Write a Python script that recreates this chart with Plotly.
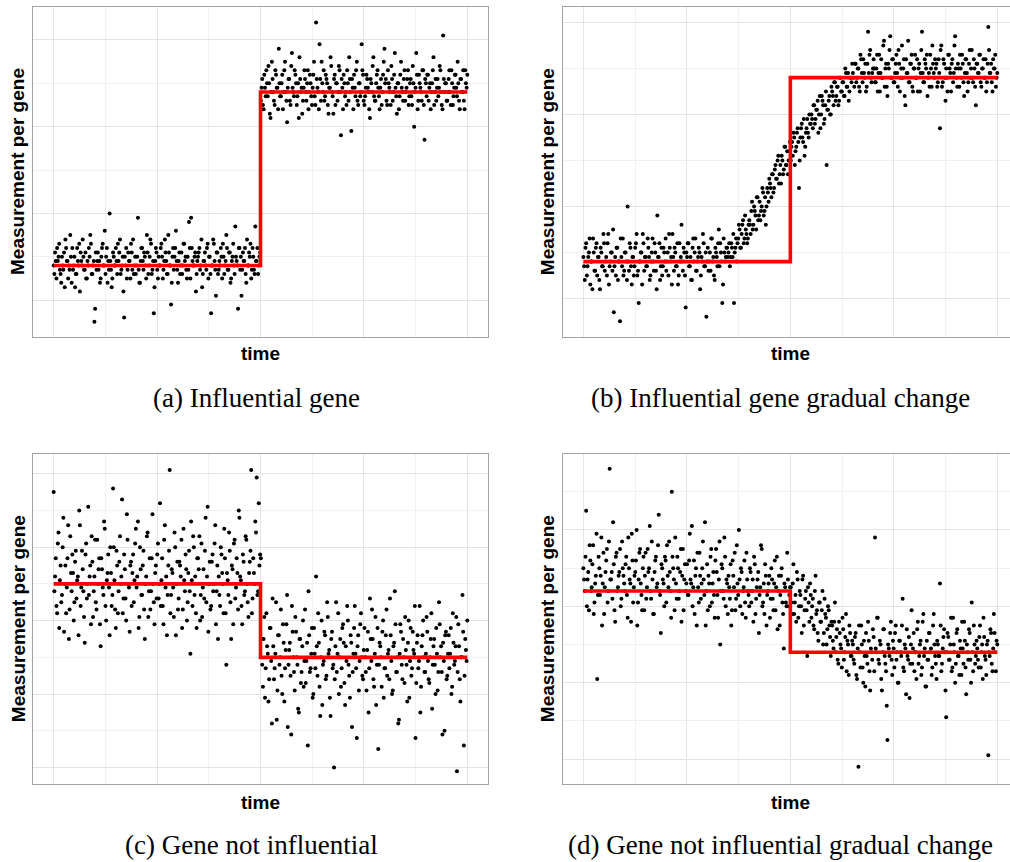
import plotly.graph_objects as go

# ---------------- data (read from the picture, arbitrary measurement units) ----------------
# two interleaved sets of readings per panel (odd / even time points)
a_before = [
    8, 11, 5, 9, 13, 6, 10, 7, 3, 12, 9, 8, 15, 4, 7,
    10, 6, 12, 8, 2, 9, 14, 7, 11, 5, 8, 10, 13, 6, 9,
    -2, 7, 11, 9, 5, 12, 8, 16, 10, 4, 7, 9, 3, 11, 8,
    12, 6, 9, 14, 7, 10, -4, 8, 5, 11, 9, 13, 7, 6, 10,
    8, 19, 4, 9, 12, 7, 10, 5, 11, 8, 14, 6, 9, 3, 12,
    7, 10, 8, 13, 5, 9, 11, 6, 15, 8, -1, 10, 7, 12, 9,
    4, 11, 8, 6, 13, 9, 7, 10, 18, 5, 12, 8, 10, 2, 9,
    11, 7, 14, 6, 9, 8, 12, 5, 10, -3, 8, 13, 7, 11, 6,
    9, 12, 5, 10, 8, 15, 7, 11, 4, 9, 13, 6, 10, 8, 12,
    7, 1, 11, 9, 6, 14, 8, 10, 5, 12, 7, 17, 9, 6, 10,
]
a_before_2 = [
    6, 9, 12, 10, 7, 4, 8, 11, 14, 9, 5, 7, 10, 12, 8,
    3, 6, 9, 13, 11, 8, 10, 7, 5, 9, 12, 15, 6, 8, -5,
    11, 9, 7, 4, 10, 13, 8, 6, 12, 9, 20, 7, 5, 10, 8,
    9, 13, 11, 6, 8, 2, 10, 12, 7, 9, 5, 11, 14, 8, 6,
    10, 7, 4, 12, 9, 11, 8, 15, 6, 10, 13, 7, -3, 9, 11,
    5, 8, 12, 10, 7, 14, 9, 6, 11, 8, 4, 12, 10, 16, 7,
    9, 6, 11, 8, 13, 10, 5, 7, 12, 19, 9, 8, 11, 6, 10,
    12, 8, 3, 9, 11, 7, 13, 10, 6, 8, 14, 9, 1, 11, 7,
    8, 10, 13, 6, 9, 12, 7, 11, 5, 10, 8, 17, 9, -2, 12,
    10, 7, 9, 12, 4, 8, 11, 13, 7, 10, 6, 9, 12, 8, 11,
]
a_after = [
    46, 51, 44, 49, 53, 47, 50, 42, 55, 48, 45, 52, 49, 58, 47,
    50, 44, 53, 48, 41, 51, 46, 54, 49, 47, 52, 45, 50, 56, 48,
    43, 49, 51, 46, 53, 48, 50, 45, 52, 47, 64, 49, 44, 51, 55,
    48, 46, 52, 50, 43, 49, 54, 47, 51, 45, 50, 48, 53, 38, 49,
    52, 47, 45, 50, 56, 48, 51, 44, 49, 53, 46, 50, 47, 59, 52,
    45, 49, 51, 48, 42, 50, 54, 47, 46, 52, 49, 44, 51, 48, 55,
    50, 46, 53, 49, 45, 51, 48, 57, 47, 50, 44, 52, 49, 46, 53,
    48, 51, 45, 50, 47, 54, 40, 49, 52, 46, 50, 48, 53, 45, 51,
    47, 52, 49, 44, 50, 56, 48, 46, 51, 49, 53, 45, 61, 48, 50,
    46, 51, 48, 53, 45, 49, 52, 47, 50, 44, 51, 48, 46, 53, 49,
]
a_after_2 = [
    49, 45, 52, 47, 50, 54, 43, 48, 51, 46, 53, 49, 44, 50, 47,
    52, 48, 55, 46, 49, 51, 45, 57, 48, 53, 50, 47, 42, 51, 49,
    46, 53, 48, 50, 44, 52, 47, 49, 55, 45, 51, 48, 59, 46, 50,
    53, 47, 51, 45, 49, 56, 48, 43, 52, 50, 46, 54, 48, 51, 44,
    50, 48, 53, 46, 51, 39, 49, 52, 47, 55, 45, 50, 48, 53, 46,
    47, 52, 49, 44, 51, 48, 56, 46, 50, 53, 47, 49, 45, 52, 58,
    51, 45, 50, 48, 54, 46, 52, 49, 43, 50, 47, 55, 48, 51, 46,
    49, 53, 47, 51, 45, 50, 48, 57, 44, 52, 49, 46, 53, 37, 50,
    52, 46, 50, 48, 53, 45, 51, 49, 47, 54, 48, 44, 51, 50, 46,
    48, 53, 45, 50, 47, 52, 49, 55, 46, 51, 48, 53, 44, 50, 52,
]
a_fit = [8, 48]

b_values = [
    9, 4, 12, 7, 10, 3, 8, 13, 6, 11, 5, 9, 2, 10, 7,
    12, 8, 5, 14, 7, 10, 6, -3, 9, 11, 4, 8, 13, 7, 5,
    10, 8, 20, 6, 11, 3, 9, 7, 12, 5, -1, 8, 10, 14, 6,
    9, 7, 11, 4, 8, 13, 6, 10, 2, 9, 12, 7, 5, 11, 8,
    6, 10, 14, 8, 3, 9, 11, 7, 12, 5, 8, 16, 6, 10, -2,
    9, 12, 7, 4, 11, 8, 13, 6, 9, 10, 5, 8, 12, 7, -4,
    11, 8, 6, 13, 9, 4, 10, 7, 15, 12, 8, 3, 10, 9, 11,
    10, 7, 12, 9, -1, 11, 8, 13, 15, 11, 16, 12, 18, 14, 13,
    17, 14, 21, 16, 19, 15, 22, 18, 17, 20, 23, 19, 16, 24, 21,
    25, 22, 27, 24, 29, 26, 31, 27, 25, 30, 28, 33, 29, 27, 32,
    30, 34, 36, 29, 33, 37, 24, 35, 38, 34, 31, 36, 39, 35, 38,
    40, 37, 42, 39, 41, 36, 44, 40, 43, 38, 42, 29, 41, 44, 40,
    45, 42, 47, 44, 46, 43, 48, 45, 47, 44, 49, 46, 43, 48, 47,
    49, 46, 51, 48, 50, 45, 52, 47, 49, 51, 46, 58, 53, 48, 49,
    52, 47, 50, 45, 53, 49, 48, 55, 46, 51, 44, 50, 57, 48, 52,
    47, 51, 49, 54, 45, 50, 48, 52, 42, 49, 56, 47, 51, 46, 50,
    53, 48, 45, 51, 49, 58, 47, 52, 50, 44, 49, 53, 46, 51, 48,
    50, 46, 52, 37, 55, 47, 51, 43, 48, 53, 50, 45, 52, 49, 57,
    48, 51, 46, 50, 53, 47, 49, 52, 45, 51, 48, 54, 47, 50, 42,
    51, 49, 53, 46, 50, 48, 52, 47, 59, 49, 51, 45, 50, 53, 48,
]
b_values_2 = [
    7, 11, 5, 9, 13, 8, 2, 10, 6, 12, 9, 4, 11, 7, 14,
    6, 9, 12, 3, 8, 10, 15, 7, 5, 11, 8, -5, 9, 13, 6,
    10, 4, 8, 12, 7, 9, 5, 11, 14, 6, 8, 10, 3, 12, 9,
    7, 13, 9, 5, 10, 8, 12, 6, 18, 9, 4, 11, 7, 10, 13,
    8, 5, 11, 9, 14, 6, 10, 7, 3, 12, 9, 8, 11, 5, 10,
    12, 7, 9, 4, 13, 10, 6, 8, 11, 2, 9, 14, 7, 10, 8,
    6, 10, 13, 8, 5, 11, 9, 12, 7, 10, -1, 13, 8, 11, 9,
    12, 9, 11, 14, 10, 13, 12, 16, 11, 14, 17, 13, 15, 12, 16,
    16, 19, 15, 20, 18, 22, 17, 21, 19, 24, 18, 22, 20, 23, 26,
    24, 27, 23, 28, 26, 30, 25, 29, 31, 27, 33, 29, 32, 30, 34,
    33, 31, 35, 32, 36, 34, 30, 37, 35, 39, 33, 37, 36, 40, 38,
    39, 42, 38, 41, 43, 40, 37, 44, 42, 39, 45, 41, 43, 40, 46,
    44, 47, 43, 46, 42, 48, 45, 47, 44, 50, 46, 49, 45, 48, 51,
    48, 51, 47, 50, 46, 53, 49, 52, 48, 45, 51, 49, 54, 47, 50,
    50, 47, 53, 49, 45, 52, 48, 56, 50, 46, 51, 54, 48, 52, 47,
    49, 53, 46, 51, 48, 55, 50, 44, 52, 49, 47, 51, 53, 45, 50,
    48, 52, 50, 45, 54, 49, 47, 51, 53, 48, 46, 50, 55, 49, 52,
    51, 47, 49, 54, 46, 52, 48, 50, 45, 53, 49, 51, 47, 55, 50,
    46, 50, 53, 48, 51, 44, 52, 49, 47, 54, 50, 48, 52, 46, 51,
    49, 53, 47, 50, 52, 48, 45, 51, 54, 49, 47, 52, 50, 46, 49,
]
b_fit = [8, 48]

c_before = [
    75, 52, 44, 61, 38, 55, 47, 68, 50, 42, 57, 35, 63, 48, 53,
    45, 59, 51, 36, 66, 49, 54, 41, 58, 46, 71, 52, 39, 56, 48,
    62, 43, 50, 57, 33, 54, 47, 65, 40, 53, 49, 60, 44, 76, 51,
    38, 55, 48, 63, 52, 42, 58, 46, 69, 50, 37, 56, 53, 45, 61,
    49, 67, 41, 54, 47, 59, 35, 52, 64, 48, 43, 57, 50, 39, 55,
    58, 46, 72, 51, 44, 62, 49, 36, 55, 81, 47, 53, 41, 60, 50,
    43, 56, 52, 38, 65, 48, 54, 45, 59, 31, 51, 63, 47, 42, 57,
    54, 40, 61, 49, 46, 68, 52, 37, 56, 44, 58, 50, 66, 48, 35,
    47, 60, 53, 42, 57, 28, 51, 64, 45, 55, 39, 62, 49, 53, 70,
    52, 44, 58, 47, 63, 50, 41, 56, 81, 46, 53, 67, 79, 48, 55,
]
c_before_2 = [
    48, 57, 42, 64, 51, 45, 60, 37, 55, 49, 66, 43, 53, 58, 40,
    56, 46, 52, 70, 44, 59, 48, 34, 61, 50, 47, 55, 63, 41, 52,
    45, 62, 54, 39, 57, 49, 67, 44, 51, 58, 36, 53, 47, 60, 43,
    59, 42, 56, 50, 73, 46, 54, 40, 62, 49, 55, 44, 58, 51, 65,
    52, 38, 60, 47, 55, 43, 50, 63, 41, 57, 48, 69, 45, 53, 46,
    61, 50, 44, 57, 39, 66, 52, 47, 59, 42, 54, 49, 64, 36, 56,
    46, 55, 62, 43, 51, 58, 40, 53, 48, 67, 44, 60, 52, 38, 57,
    63, 47, 41, 54, 59, 45, 71, 50, 43, 56, 48, 61, 39, 55, 52,
    44, 58, 50, 65, 42, 53, 47, 59, 35, 54, 61, 46, 57, 43, 68,
    51, 39, 56, 48, 62, 45, 53, 59, 42, 57, 50, 64, 47, 72, 58,
]
c_after = [
    57, 28, 35, 19, 42, 31, 24, 38, 12, 33, 27, 45, 21, 36, 30,
    25, 39, 18, 32, 47, 28, 34, 9, 37, 26, 41, 30, 16, 35, 23,
    33, 22, 43, 29, 6, 36, 27, 38, 20, 31, 52, 25, 34, 14, 40,
    28, 37, 24, 45, 31, 19, 35, 27, 0, 33, 26, 42, 30, 22, 38,
    34, 17, 29, 40, 25, 36, 11, 31, 44, 27, 33, 21, 39, 30, 24,
    38, 26, 32, 15, 46, 29, 35, 22, 41, 28, 5, 34, 30, 37, 19,
    27, 43, 31, 24, 36, 20, 33, 48, 26, 30, 13, 39, 28, 35, 23,
    32, 18, 40, 29, 25, 37, 31, 8, 34, 27, 44, 22, 36, 30, 26,
    41, 29, 23, 35, 16, 33, 28, 38, 21, 45, 30, 26, 34, 10, 37,
    25, 36, 31, 20, 42, 28, 33, -1, 39, 24, 30, 47, 6, 35, 29,
]
c_after_2 = [
    35, 22, 41, 27, 33, 18, 38, 29, 46, 24, 31, 13, 36, 28, 43,
    20, 34, 27, 39, 11, 32, 25, 44, 30, 21, 37, 28, 15, 35, 26,
    40, 29, 23, 34, 48, 26, 31, 19, 38, 27, 33, 42, 22, 30, 17,
    29, 36, 25, 41, 32, 14, 37, 28, 24, 45, 31, 20, 35, 27, 39,
    23, 33, 44, 28, 19, 34, 26, 38, 31, 8, 36, 29, 42, 25, 32,
    30, 21, 37, 27, 35, 43, 24, 31, 17, 38, 28, 33, 22, 40, 27,
    36, 25, 32, 46, 29, 21, 34, 39, 26, 12, 31, 37, 24, 30, 41,
    28, 34, 19, 38, 27, 32, 44, 23, 36, 29, 15, 33, 40, 26, 31,
    37, 24, 30, 42, 28, 35, 20, 31, 26, 39, 33, 9, 29, 36, 24,
    31, 27, 38, 22, 34, 29, 41, 26, 33, 18, 30, 37, 25, 32, 40,
]
c_fit = [50, 30]

d_values = [
    50, 44, 65, 47, 39, 52, 45, 56, 41, 48, 21, 53, 43, 58, 46,
    38, 49, 55, 44, 76, 47, 42, 51, 36, 54, 45, 49, 40, 57, 48,
    44, 53, 37, 50, 46, 59, 41, 48, 52, 35, 47, 55, 43, 50, 39,
    54, 45, 49, 61, 42, 47, 38, 52, 45, 56, 44, 33, 50, 46, 53,
    41, 48, 57, 44, 70, 50, 39, 46, 53, 42, 49, 36, 55, 47, 44,
    51, 43, 59, 46, 40, 52, 48, 35, 45, 54, 42, 50, 47, 62, 44,
    39, 46, 53, 41, 49, 37, 55, 43, 47, 30, 51, 44, 58, 40, 46,
    48, 42, 35, 52, 45, 39, 56, 43, 47, 50, 38, 45, 41, 54, 44,
    40, 49, 44, 36, 51, 42, 47, 33, 45, 55, 41, 38, 48, 43, 46,
    37, 50, 42, 46, 39, 53, 44, 35, 48, 41, 29, 45, 40, 47, 43,
    45, 38, 51, 41, 36, 47, 40, 43, 33, 48, 39, 44, 27, 41, 46,
    37, 42, 34, 48, 39, 31, 41, 36, 44, 33, 38, 30, 40, 35, 27,
    35, 29, 41, 32, 26, 36, 30, 24, 34, 28, 38, 31, 22, 33, 27,
    30, 25, 33, 21, -2, 28, 35, 24, 31, 19, 27, 36, 23, 29, 26,
    32, 58, 28, 37, 25, 30, 18, 34, 27, 23, 5, 29, 33, 26, 31,
    24, 35, 28, 20, 31, 27, 42, 23, 29, 34, 26, 16, 30, 25, 33,
    28, 21, 36, 27, 31, 24, 38, 29, 19, 26, 33, 28, 22, 35, 30,
    25, 31, 27, 46, 23, 29, 34, 18, 28, 32, 26, 37, 24, 30, 20,
    33, 27, 22, 29, 36, 25, 31, 17, 28, 34, 26, 41, 23, 30, 27,
    29, 24, 35, 28, 21, 32, 26, 30, 1, 27, 33, 23, 38, 28, 31,
]
d_values_2 = [
    47, 53, 40, 49, 56, 44, 51, 38, 46, 59, 43, 50, 48, 35, 54,
    45, 52, 41, 57, 47, 49, 62, 39, 53, 44, 48, 55, 42, 50, 46,
    51, 43, 58, 47, 36, 52, 45, 49, 60, 41, 54, 46, 39, 53, 48,
    42, 55, 50, 44, 57, 38, 49, 53, 46, 64, 43, 51, 47, 40, 52,
    56, 45, 49, 37, 53, 47, 58, 42, 50, 44, 55, 48, 39, 51, 46,
    43, 52, 47, 61, 45, 38, 50, 54, 41, 48, 46, 57, 43, 35, 51,
    48, 40, 55, 46, 43, 52, 49, 37, 57, 44, 50, 42, 53, 47, 38,
    45, 51, 39, 48, 54, 42, 46, 60, 40, 49, 44, 52, 37, 47, 43,
    50, 41, 47, 53, 38, 45, 49, 43, 56, 40, 46, 51, 35, 44, 48,
    42, 47, 39, 52, 45, 34, 48, 43, 50, 38, 46, 41, 54, 40, 45,
    41, 46, 38, 43, 49, 37, 44, 40, 47, 35, 42, 39, 45, 36, 43,
    40, 35, 44, 38, 33, 41, 36, 39, 30, 42, 37, 34, 39, 32, 36,
    31, 36, 28, 34, 25, 33, 29, 37, 26, 32, 23, 30, 35, 27, 31,
    26, 32, 22, 29, 35, 24, 30, 20, 27, 33, 25, 31, 18, 28, 34,
    23, 29, 37, 26, 31, 21, 28, 34, 25, 14, 30, 27, 36, 22, 29,
    33, 26, 20, 31, 28, 35, 24, 30, 17, 27, 32, 25, 39, 29, 23,
    28, 34, 25, 30, 22, 36, 27, 19, 31, 26, 33, 29, 24, 38, 27,
    21, 30, 27, 35, 25, 32, 28, 11, 33, 26, 30, 23, 37, 28, 25,
    34, 27, 31, 22, 29, 36, 24, 30, 26, 33, 20, 28, 35, 25, 31,
    26, 32, 24, 30, 37, 27, 22, 31, 28, 34, 25, 29, 33, 23, 30,
]
d_fit = [44, 28]

captions = ["(a) Influential gene", "(b) Influential gene gradual change",
            "(c) Gene not influential", "(d) Gene not influential gradual change"]
y_title = "Measurement per gene"
x_title = "time"


def interleave(first, second):
    out = []
    for u, v in zip(first, second):
        out.extend([u, v])
    return out


# ---------------- layout geometry (pixels) ----------------
W, H = 1010, 862
panels = [
    dict(vals=interleave(a_before, a_before_2) + interleave(a_after, a_after_2), fit=a_fit,
         box=(33, 7, 488, 337), full_right=488,
         yr=(-8.5, 67.6), ymaj=[0, 20, 40, 60], ymin=[10, 30, 50],
         cap=(256, 398), ytx=18, xty=354),
    dict(vals=interleave(b_values, b_values_2), fit=b_fit,
         box=(562.7, 7.3, 1010, 337), full_right=1018,
         yr=(-8.4, 63.3), ymaj=[0, 20, 40, 60], ymin=[10, 30, 50],
         cap=(780, 398), ytx=547, xty=354),
    dict(vals=interleave(c_before, c_before_2) + interleave(c_after, c_after_2), fit=c_fit,
         box=(33, 454.3, 488, 784), full_right=488,
         yr=(-4.5, 85.3), ymaj=[0, 20, 40, 60, 80], ymin=[10, 30, 50, 70],
         cap=(251, 845), ytx=18, xty=802),
    dict(vals=interleave(d_values, d_values_2), fit=d_fit,
         box=(562.7, 454.3, 1010, 784), full_right=1018,
         yr=(-6.5, 79.8), ymaj=[0, 20, 40, 60], ymin=[10, 30, 50, 70],
         cap=(780, 845), ytx=547, xty=802),
]

fig = go.Figure()
BORDER = "#a3a3a3"
GMAJ = "#e4e4e4"
GMIN = "#f1f1f1"
annotations = []

for i, p in enumerate(panels):
    k = "" if i == 0 else str(i + 1)
    vals = p["vals"]
    n = len(vals)
    t = list(range(n))
    tmid = (n - 1) / 2
    left, top, right, bottom = p["box"]
    full_w = p["full_right"] - left
    vis_w = right - left
    span = (n - 1) * 1.1
    r0 = -(n - 1) * 0.05
    r1 = r0 + span * vis_w / full_w

    fig.add_trace(go.Scatter(
        x=t, y=vals, mode="markers", xaxis="x" + k, yaxis="y" + k,
        marker=dict(size=4, color="black", line=dict(width=0)),
        showlegend=False, hoverinfo="skip"))
    lo, hi = p["fit"]
    fig.add_trace(go.Scatter(
        x=[0, tmid, tmid, n - 1], y=[lo, lo, hi, hi], mode="lines",
        xaxis="x" + k, yaxis="y" + k,
        line=dict(color="#ff0000", width=3.6),
        showlegend=False, hoverinfo="skip"))

    closed = p["full_right"] <= right
    xmaj = [(n - 1) * f for f in (0, 0.25, 0.5, 0.75, 1)]
    xmin = [(n - 1) * f for f in (0.125, 0.375, 0.625, 0.875)]
    fig.update_layout(**{
        "xaxis" + k: dict(
            domain=[left / W, right / W], range=[r0, r1], anchor="y" + k,
            tickvals=xmaj, showticklabels=False, ticks="",
            showgrid=True, gridcolor=GMAJ, gridwidth=1, zeroline=False,
            minor=dict(tickvals=xmin, showgrid=True, gridcolor=GMIN, gridwidth=1, ticks=""),
            showline=True, linecolor=BORDER, linewidth=1, mirror=True),
        "yaxis" + k: dict(
            domain=[1 - bottom / H, 1 - top / H], range=list(p["yr"]), anchor="x" + k,
            tickvals=p["ymaj"], showticklabels=False, ticks="",
            showgrid=True, gridcolor=GMAJ, gridwidth=1, zeroline=False,
            minor=dict(tickvals=p["ymin"], showgrid=True, gridcolor=GMIN, gridwidth=1, ticks=""),
            showline=True, linecolor=BORDER, linewidth=1, mirror=closed),
    })

    cx = (left + p["full_right"]) / 2
    annotations.append(dict(
        text=x_title, x=cx / W, y=1 - p["xty"] / H, xref="paper", yref="paper",
        xanchor="center", yanchor="middle", showarrow=False,
        font=dict(family="Liberation Sans, Arial, sans-serif", size=19, color="black", weight="bold")))
    annotations.append(dict(
        text=y_title, x=p["ytx"] / W, y=1 - ((top + bottom) / 2) / H, xref="paper", yref="paper",
        xanchor="center", yanchor="middle", textangle=-90, showarrow=False,
        font=dict(family="Liberation Sans, Arial, sans-serif", size=19, color="black", weight="bold")))
    annotations.append(dict(
        text=captions[i], x=p["cap"][0] / W, y=1 - p["cap"][1] / H, xref="paper", yref="paper",
        xanchor="center", yanchor="middle", showarrow=False,
        font=dict(family="Liberation Serif, Times New Roman, serif", size=27, color="black")))

fig.update_layout(
    width=W, height=H, margin=dict(l=0, r=0, t=0, b=0),
    paper_bgcolor="white", plot_bgcolor="white",
    annotations=annotations, showlegend=False)

fig.write_html("out.html")
